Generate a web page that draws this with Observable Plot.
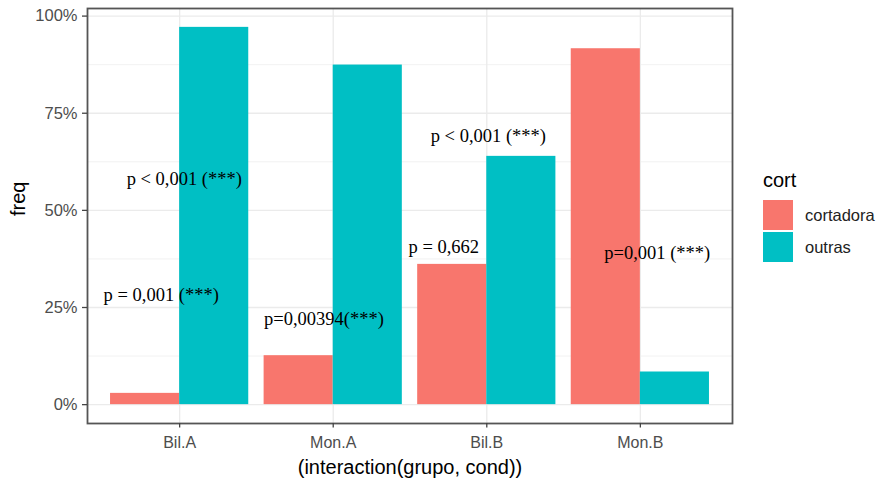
<!DOCTYPE html>
<html>
<head>
<meta charset="utf-8">
<script src="https://cdn.jsdelivr.net/npm/d3@7"></script>
<script src="https://cdn.jsdelivr.net/npm/@observablehq/plot@0.6"></script>
<style>
  html, body { margin: 0; padding: 0; background: #fff; }
  #wrap { position: relative; width: 882px; height: 479px; overflow: hidden; }
  #legend { position: absolute; left: 0; top: 0; font-family: "Liberation Sans", Arial, sans-serif; }
  .lg-title { position: absolute; left: 763px; top: 170px; font-size: 20px; line-height: 20px; color: #000; white-space: nowrap; }
  .lg-key { position: absolute; left: 763px; width: 30px; height: 30px; }
  .lg-label { position: absolute; left: 805px; height: 30px; line-height: 30px; font-size: 16.5px; color: #222; white-space: nowrap; }
</style>
</head>
<body>
<div id="wrap"><div id="chart"></div><div id="legend"></div></div>
<script>
// ---- data ----
const groups = ["Bil.A", "Mon.A", "Bil.B", "Mon.B"];
const series = ["cortadora", "outras"];
const cortadora = [0.029, 0.126, 0.361, 0.916];
const outras = [0.971, 0.874, 0.639, 0.084];
const seriesColors = ["#F8766D", "#00BFC4"];
const yTicks = [0, 0.25, 0.5, 0.75, 1];
const yTickLabels = ["0%", "25%", "50%", "75%", "100%"];
const yMinorTicks = [0.125, 0.375, 0.625, 0.875];
const legendTitle = "cort";
const xTitle = "(interaction(grupo, cond))";
const yTitle = "freq";
// annotations (x in group-index units, y in freq units)
const annText = ["p < 0,001 (***)", "p = 0,001 (***)", "p=0,00394(***)", "p = 0,662", "p < 0,001 (***)", "p=0,001 (***)"];
const annX = [0.03, -0.12, 0.94, 1.72, 2.01, 3.11];
const annY = [0.566, 0.268, 0.206, 0.389, 0.675, 0.374];

// ---- build tables ----
const seriesValues = [cortadora, outras];
const rows = groups.flatMap((g, gi) => series.map((s, si) => ({group: g, gi, cort: s, si, freq: seriesValues[si][gi]})));
const anns = annText.map((t, i) => ({text: t, x: annX[i], y: annY[i]}));
const groupIdx = groups.map((_, i) => i);

const dodge = 0.9 / series.length;
const allVals = rows.map(d => d.freq).concat([0]);
const vMin = d3.min(allVals), vMax = d3.max(allVals);
const pad = 0.05 * (vMax - vMin);

const chart = Plot.plot({
  width: 882,
  height: 479,
  marginLeft: 87,
  marginRight: 150,
  marginTop: 8,
  marginBottom: 56,
  style: {fontFamily: "'Liberation Sans', Arial, sans-serif", fontSize: "16px", background: "#fff", color: "#000"},
  x: {type: "linear", domain: [-0.6, groups.length - 1 + 0.6], axis: null},
  y: {domain: [vMin - pad, vMax + pad], axis: null},
  color: {domain: series, range: seriesColors},
  marks: [
    Plot.gridY(yMinorTicks, {stroke: "#f0f0f0", strokeOpacity: 1, strokeWidth: 0.9}),
    Plot.gridY(yTicks, {stroke: "#ebebeb", strokeOpacity: 1, strokeWidth: 1.3}),
    Plot.gridX(groupIdx, {stroke: "#ebebeb", strokeOpacity: 1, strokeWidth: 1.3}),
    Plot.rect(rows, {
      x1: d => d.gi - 0.45 + d.si * dodge,
      x2: d => d.gi - 0.45 + (d.si + 1) * dodge,
      y1: d => 0,
      y2: "freq",
      fill: "cort"
    }),
    Plot.text(anns, {x: "x", y: "y", text: "text", fontFamily: "'Liberation Serif', 'Times New Roman', serif", fontSize: 18.5, lineAnchor: "bottom", textAnchor: "middle", fill: "#000"}),
    Plot.frame({stroke: "#555", strokeWidth: 1.8}),
    Plot.axisY(yTicks, {tickFormat: d => yTickLabels[yTicks.indexOf(d)], tickSize: 5, tickPadding: 5, fontSize: 16.5, fill: "#4d4d4d", stroke: "#444", strokeWidth: 1.3, label: null}),
    Plot.axisX(groupIdx, {tickFormat: i => groups[i], tickSize: 4.5, tickPadding: 9, fontSize: 16, fill: "#4d4d4d", stroke: "#444", strokeWidth: 1.3, label: null}),
    Plot.text([yTitle], {frameAnchor: "left", dx: -69, rotate: -90, fontSize: 20, fill: "#000"}),
    Plot.text([xTitle], {frameAnchor: "bottom", dy: 50, lineAnchor: "bottom", fontSize: 20, fill: "#000"})
  ]
});
document.getElementById("chart").appendChild(chart);

// ---- legend ----
const lg = document.getElementById("legend");
const t = document.createElement("div");
t.className = "lg-title";
t.textContent = legendTitle;
lg.appendChild(t);
series.forEach((s, i) => {
  const top = 200 + i * 32;
  const k = document.createElement("div");
  k.className = "lg-key";
  k.style.top = top + "px";
  k.style.background = seriesColors[i];
  lg.appendChild(k);
  const l = document.createElement("div");
  l.className = "lg-label";
  l.style.top = top + "px";
  l.textContent = s;
  lg.appendChild(l);
});
</script>
</body>
</html>
